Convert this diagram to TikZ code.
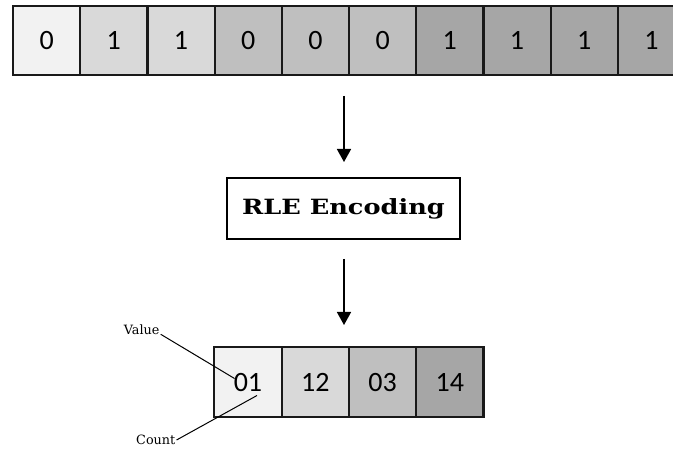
\documentclass[tikz,border=0pt]{standalone}
\usepackage{fontspec}
\usepackage{graphicx}
\setmainfont{DejaVu Serif}
\newfontfamily\cellfont{Carlito}
\usetikzlibrary{arrows.meta}
\definecolor{cA}{HTML}{F2F2F2}
\definecolor{cB}{HTML}{D9D9D9}
\definecolor{cC}{HTML}{BFBFBF}
\definecolor{cD}{HTML}{A6A6A6}
\tikzset{
  cell/.style={draw=black!90, line width=2.2pt, minimum width=67.2pt, minimum height=69pt,
    inner sep=0pt, font=\cellfont\fontsize{28}{30}\selectfont, text=black},
  flow/.style={line width=1.6pt, -{Triangle[width=14pt,length=13pt]}},
  lbl/.style={font=\fontsize{12.8}{15}\selectfont, inner sep=1pt},
  pointer/.style={line width=1pt},
  encbox/.style={draw, line width=1.8pt, minimum width=233pt, minimum height=61pt,
    font=\bfseries\fontsize{21}{25}\selectfont}
}
\begin{document}
\begin{tikzpicture}[x=1pt,y=-1pt]
\useasboundingbox (0,0) rectangle (673,449);
\clip (0,0) rectangle (673,449);
% top row
\foreach \i/\v/\c in {0/0/cA,1/1/cB,2/1/cB,3/0/cC,4/0/cC,5/0/cC,6/1/cD,7/1/cD,8/1/cD,9/1/cD}{
  \node[cell, fill=\c] (t\i) at ({13+33.6+67.2*\i},40.5) {\v};
}
% encoding box
\node[encbox] (enc) at (343.5,208.5) {\scalebox{1.22}[1]{RLE Encoding}};
% arrows
\coordinate (a1s) at (344,96);
\coordinate (a1e) at (344,162);
\coordinate (a2s) at (344,259);
\coordinate (a2e) at (344,325);
\draw[flow] (a1s) -- (a1e);
\draw[flow] (a2s) -- (a2e);
% bottom row
\foreach \i/\v/\c in {0/01/cA,1/12/cB,2/03/cC,3/14/cD}{
  \node[cell, fill=\c, minimum width=67.3pt, minimum height=70pt] (b\i) at ({214.3+33.65+67.3*\i},382.4) {\v};
}
% labels
\node[lbl] (val) at (141.7,329.5) {Value};
\node[lbl] (cnt) at (155.8,440) {Count};
\coordinate (vp) at (234.5,378.5);
\coordinate (cp) at (257,395.5);
\draw[pointer] (val.base east) -- (vp);
\draw[pointer] (cnt.east) -- (cp);
\end{tikzpicture}
\end{document}
